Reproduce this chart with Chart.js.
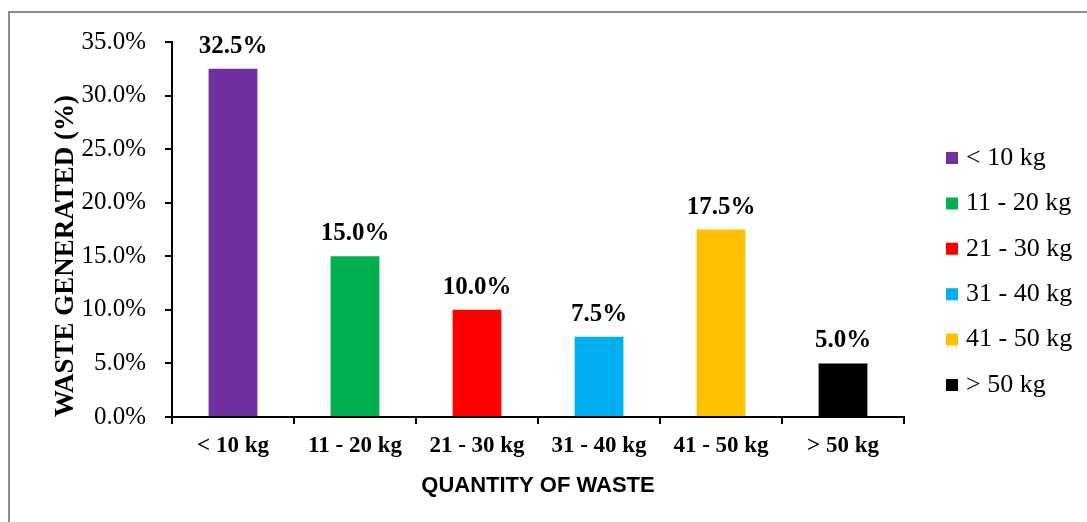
<!DOCTYPE html>
<html>
<head>
<meta charset="utf-8">
<script src="https://cdn.jsdelivr.net/npm/chart.js@4/dist/chart.umd.min.js"></script>
<style>
  html, body { margin: 0; padding: 0; background: #fff; overflow: hidden; }
  #c { display: block; }
</style>
</head>
<body>
<canvas id="c" width="1087" height="522" style="width:1087px;height:522px"></canvas>
<script>
const categories = ['< 10 kg', '11 - 20 kg', '21 - 30 kg', '31 - 40 kg', '41 - 50 kg', '> 50 kg'];
const wastePercent = [32.5, 15.0, 10.0, 7.5, 17.5, 5.0];
const barColors = ['#7030A0', '#00B050', '#FF0000', '#00B0F0', '#FFC000', '#000000'];
const yTickValues = [0, 5, 10, 15, 20, 25, 30, 35];
const yAxisTitle = 'WASTE GENERATED (%)';
const xAxisTitle = 'QUANTITY OF WASTE';

const SERIF = '"Liberation Serif", "Times New Roman", serif';
const SANS = '"Liberation Sans", Arial, sans-serif';

const frame = {
  id: 'frame',
  beforeDraw(chart) {
    const ctx = chart.ctx;
    ctx.save();
    ctx.fillStyle = '#fff';
    ctx.fillRect(0, 0, chart.width, chart.height);
    ctx.strokeStyle = '#8c8c8c';
    ctx.lineWidth = 2;
    ctx.strokeRect(9, 12, chart.width + 20, chart.height + 20);
    ctx.restore();
  }
};

const valueLabels = {
  id: 'valueLabels',
  afterDatasetsDraw(chart) {
    const ctx = chart.ctx;
    const meta = chart.getDatasetMeta(0);
    ctx.save();
    ctx.font = 'bold 25px ' + SERIF;
    ctx.fillStyle = '#000';
    ctx.textAlign = 'center';
    ctx.textBaseline = 'alphabetic';
    meta.data.forEach((bar, i) => {
      const v = chart.data.datasets[0].data[i];
      ctx.fillText(v.toFixed(1) + '%', bar.x, bar.y - 16);
    });
    ctx.restore();
  }
};

new Chart(document.getElementById('c'), {
  type: 'bar',
  data: {
    labels: categories,
    datasets: [{
      data: wastePercent,
      backgroundColor: barColors,
      categoryPercentage: 1.0,
      barPercentage: 0.4
    }]
  },
  options: {
    responsive: false,
    animation: false,
    devicePixelRatio: 1,
    layout: { padding: { left: 46, top: 42, right: 10.4, bottom: 21 } },
    plugins: {
      tooltip: { enabled: false },
      legend: {
        position: 'right',
        maxWidth: 145,
        labels: {
          color: '#000',
          font: { family: SERIF, size: 26 },
          usePointStyle: true,
          boxWidth: 2,
          boxHeight: 12,
          padding: 19.4,
          generateLabels(chart) {
            return categories.map((c, i) => ({
              text: c,
              fillStyle: barColors[i],
              strokeStyle: barColors[i],
              lineWidth: 0,
              pointStyle: 'rect',
              hidden: false,
              index: i,
              fontColor: '#000'
            }));
          }
        },
        onClick() {}
      }
    },
    scales: {
      x: {
        grid: { display: true, drawOnChartArea: false, drawTicks: true, tickLength: 7, color: '#000', lineWidth: 2, offset: true },
        border: { display: true, color: '#000', width: 2 },
        ticks: { color: '#000', font: { family: SERIF, size: 23, weight: 'bold' }, padding: 8, maxRotation: 0, autoSkip: false },
        title: { display: true, text: xAxisTitle, color: '#000', font: { family: SANS, size: 22, weight: 'bold' }, padding: { top: 5.2, bottom: 1.8 } }
      },
      y: {
        min: 0,
        max: 35,
        afterBuildTicks(scale) { scale.ticks = yTickValues.map(v => ({ value: v })); },
        afterFit(scale) { scale.width = 126; },
        grid: { display: true, drawOnChartArea: false, drawTicks: true, tickLength: 7, color: '#000', lineWidth: 2 },
        border: { display: true, color: '#000', width: 2 },
        ticks: { color: '#000', font: { family: SERIF, size: 25 }, padding: 19, callback: v => Number(v).toFixed(1) + '%' },
        title: { display: true, text: yAxisTitle, align: 'start', color: '#000', font: { family: SERIF, size: 27, weight: 'bold' }, padding: { top: 4, bottom: 4 } }
      },
      yPad: {
        type: 'linear',
        position: 'right',
        display: true,
        grid: { display: false, drawTicks: false },
        border: { display: false },
        ticks: { display: false },
        afterFit(scale) { scale.width = 27.6; }
      }
    }
  },
  plugins: [frame, valueLabels]
});
</script>
</body>
</html>
